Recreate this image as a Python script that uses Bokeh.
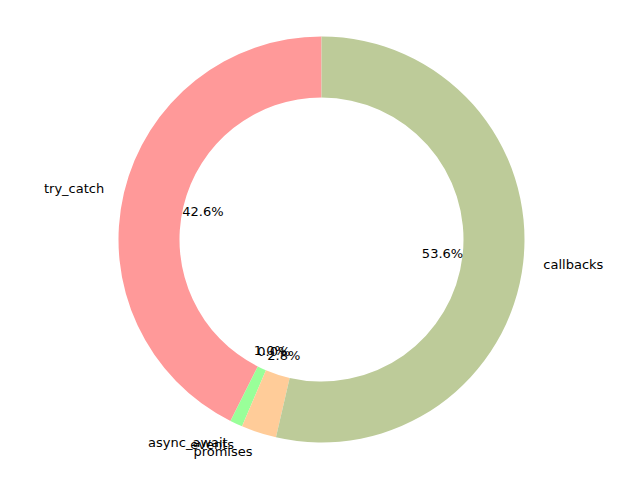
import numpy as np
from bokeh.plotting import figure
from bokeh.models import Range1d, ColumnDataSource
from bokeh.core.properties import value
from bokeh.embed import file_html
from bokeh.resources import INLINE

labels = ["try_catch", "async_await", "events", "promises", "callbacks"]
values = [42.6, 1.0, 0.0, 2.8, 53.6]
colors = ["#ff9999", "#99ff99", "#66b3ff", "#ffcc99", "#bdcb99"]

cx, cy = 321, 241
r_out, r_in = 203, 142

frac = np.array(values) / sum(values)
ends = np.pi / 2 + np.cumsum(frac) * 2 * np.pi
starts = ends - frac * 2 * np.pi
mids = (starts + ends) / 2

# skip empty slices: a zero-width wedge would be drawn as a full ring
keep = frac > 0
src = ColumnDataSource(dict(start=starts[keep], end=ends[keep],
                            color=[c for c, k in zip(colors, keep) if k]))

p = figure(width=624, height=464, output_backend="svg", toolbar_location=None,
           x_range=Range1d(0, 624), y_range=Range1d(16, 480), min_border=0)
p.axis.visible = False
p.grid.visible = False
p.outline_line_color = None

p.annular_wedge(x=cx, y=cy, inner_radius=r_in, outer_radius=r_out,
                start_angle="start", end_angle="end", color="color",
                line_color=None, source=src, direction="anticlock")

lx = cx + 1.1 * r_out * np.cos(mids)
ly = cy + 1.1 * r_out * np.sin(mids)
align = ["right" if x < cx else "left" for x in lx]
p.text(x=lx, y=ly, text=labels, text_align=align, text_baseline="middle",
       text_font=value("DejaVu Sans"), text_font_size="13px", text_color="black")

px = cx + 0.6 * r_out * np.cos(mids)
py = cy + 0.6 * r_out * np.sin(mids)
pct = ["%.1f%%" % v for v in values]
p.text(x=px, y=py, text=pct, text_align="center", text_baseline="middle",
       text_font=value("DejaVu Sans"), text_font_size="13px", text_color="black")

open("out.html", "w").write(file_html(p, INLINE))
